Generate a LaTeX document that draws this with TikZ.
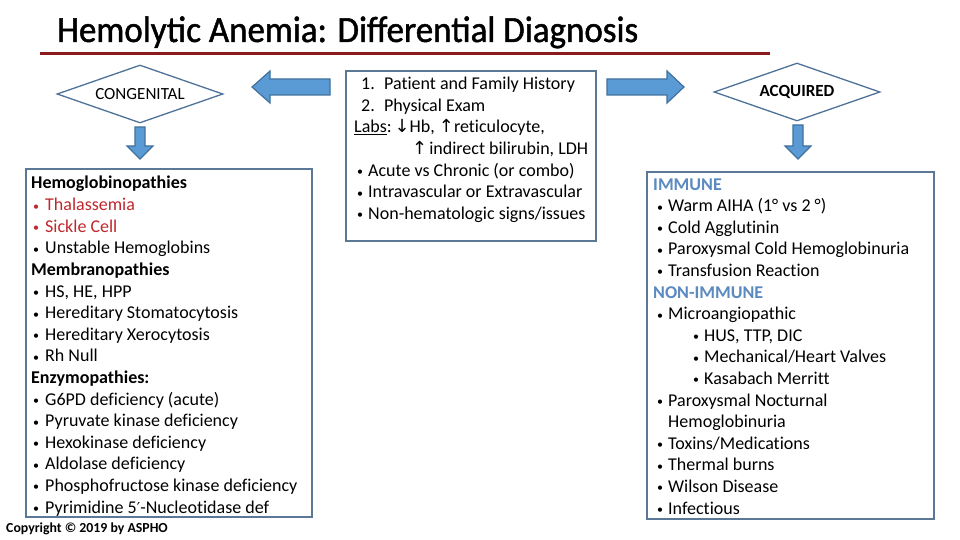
\documentclass[tikz,border=0pt]{standalone}
\usepackage{fontspec}
\setmainfont[Ligatures=NoCommon]{Carlito}
\newfontfamily\titlefont[FakeBold=1.3]{Carlito}
\newfontfamily\djv{DejaVu Sans}
\usetikzlibrary{shapes.geometric}
\definecolor{boxc}{HTML}{5B7897}
\definecolor{dmc}{HTML}{4E7298}
\definecolor{arf}{HTML}{5B9BD5}
\definecolor{ard}{HTML}{41719C}
\definecolor{titlered}{HTML}{8B1A1A}
\definecolor{redtxt}{HTML}{C0282D}
\definecolor{immc}{HTML}{5A8AC0}
\newcommand\bul[1]{\makebox[#1pt][l]{\hspace{1pt}\raisebox{0.5pt}{\fontsize{12}{12}\selectfont •}}}
\newcommand\arw[1]{{\djv\fontsize{18}{18}\selectfont #1}}
\begin{document}
\begin{tikzpicture}[x=1pt,y=-1pt,
 txt/.style={anchor=base west,inner sep=0pt,font=\fontsize{18}{21}\selectfont},
 hdr/.style={txt,font=\fontsize{18}{21}\selectfont\bfseries},
 boxst/.style={draw=boxc,line width=1.6pt,fill=white,anchor=north west,inner sep=0pt},
 dmd/.style={draw=dmc,line width=1.3pt,fill=white,diamond,aspect=2.86,minimum width=166pt,minimum height=58pt,inner sep=0pt,font=\fontsize{17}{20}\selectfont},
 blk/.style={fill=arf,draw=ard,line width=1.2pt,line join=miter}]
\fill[white] (0,0) rectangle (960,540);
\useasboundingbox (0,0) rectangle (960,540);

% title
\node[anchor=base west,inner sep=0pt,font=\fontsize{37}{40}\titlefont] (title) at (57,42) {\scalebox{0.945}[1]{Hemolytic Anemia: Differential Diagnosis}};
\coordinate (rl) at (40,53.5);
\coordinate (rr) at (770,53.5);
\draw[titlered,line width=2.8pt] (rl) -- (rr);

% diamonds
\node[dmd] (cong) at (140,94) {CONGENITAL};
\node[dmd,font=\fontsize{17}{20}\selectfont\bfseries] (acq) at (797,92) {ACQUIRED};

% boxes
\node[boxst,minimum width=250pt,minimum height=170pt] (cbox) at (345,70) {};
\node[boxst,minimum width=286pt,minimum height=348pt] (lbox) at (25,168) {};
\node[boxst,minimum width=287pt,minimum height=347pt] (rbox) at (646,171) {};

% block arrows
\draw[blk] (330,79) -- (270,79) -- (270,71) -- (252,87) -- (270,103) -- (270,95) -- (330,95) -- cycle;
\draw[blk] (607,79) -- (667,79) -- (667,71) -- (684,87) -- (667,103) -- (667,95) -- (607,95) -- cycle;
\draw[blk] (135,127) -- (145,127) -- (145,146) -- (153,146) -- (140,159) -- (127,146) -- (135,146) -- cycle;
\draw[blk] (793,125) -- (803,125) -- (803,146) -- (811,146) -- (798,159) -- (785,146) -- (793,146) -- cycle;

% centre text
\node[txt] (c1) at (361,90) {\makebox[23pt][l]{1.}Patient and Family History};
\node[txt] (c2) at (361,111.5) {\makebox[23pt][l]{2.}Physical Exam};
\node[txt] (c3) at (354,133) {\underline{Labs}:\hspace{3pt}\arw{↓}Hb, \arw{↑}reticulocyte,};
\node[txt] (c4) at (412,154.5) {\arw{↑}\hspace{2pt}indirect bilirubin, LDH};
\node[txt] (c5) at (356,176) {\bul{12}Acute vs Chronic (or combo)};
\node[txt] (c6) at (356,197.5) {\bul{12}Intravascular or Extravascular};
\node[txt] (c7) at (356,219) {\bul{12}Non-hematologic signs/issues};

% left list
\node[hdr] (l0) at (31,189) {Hemoglobinopathies};
\node[txt,text=redtxt] (l1) at (32,210.6) {\bul{13}Thalassemia};
\node[txt,text=redtxt] (l2) at (32,232.2) {\bul{13}Sickle Cell};
\node[txt] (l3) at (32,253.8) {\bul{13}Unstable Hemoglobins};
\node[hdr] (l4) at (31,275.4) {Membranopathies};
\node[txt] (l5) at (32,297) {\bul{13}HS, HE, HPP};
\node[txt] (l6) at (32,318.6) {\bul{13}Hereditary Stomatocytosis};
\node[txt] (l7) at (32,340.2) {\bul{13}Hereditary Xerocytosis};
\node[txt] (l8) at (32,361.8) {\bul{13}Rh Null};
\node[hdr] (l9) at (31,383.4) {Enzymopathies:};
\node[txt] (l10) at (32,405) {\bul{13}G6PD deficiency (acute)};
\node[txt] (l11) at (32,426.6) {\bul{13}Pyruvate kinase deficiency};
\node[txt] (l12) at (32,448.2) {\bul{13}Hexokinase deficiency};
\node[txt] (l13) at (32,469.8) {\bul{13}Aldolase deficiency};
\node[txt] (l14) at (32,491.4) {\bul{13}Phosphofructose kinase deficiency};
\node[txt] (l15) at (32,513) {\bul{13}Pyrimidine 5{\djv\fontsize{15}{15}\selectfont ′}-Nucleotidase def};

% right list
\node[hdr,text=immc] (r0) at (653,190) {IMMUNE};
\node[txt] (r1) at (656,211.6) {\bul{12}Warm AIHA (1° vs 2 °)};
\node[txt] (r2) at (656,233.2) {\bul{12}Cold Agglutinin};
\node[txt] (r3) at (656,254.8) {\bul{12}Paroxysmal Cold Hemoglobinuria};
\node[txt] (r4) at (656,276.4) {\bul{12}Transfusion Reaction};
\node[hdr,text=immc] (r5) at (653,298) {NON-IMMUNE};
\node[txt] (r6) at (656,319.6) {\bul{12}Microangiopathic};
\node[txt] (r7) at (692,341.2) {\bul{12}HUS, TTP, DIC};
\node[txt] (r8) at (692,362.8) {\bul{12}Mechanical/Heart Valves};
\node[txt] (r9) at (692,384.4) {\bul{12}Kasabach Merritt};
\node[txt] (r10) at (656,406) {\bul{12}Paroxysmal Nocturnal};
\node[txt] (r11) at (668,427.6) {Hemoglobinuria};
\node[txt] (r12) at (656,449.2) {\bul{12}Toxins/Medications};
\node[txt] (r13) at (656,470.8) {\bul{12}Thermal burns};
\node[txt] (r14) at (656,492.4) {\bul{12}Wilson Disease};
\node[txt] (r15) at (656,514) {\bul{12}Infectious};

% copyright
\node[anchor=base west,inner sep=0pt,font=\fontsize{13.8}{15}\selectfont\bfseries] (copy) at (6,532) {Copyright © 2019 by ASPHO};
\end{tikzpicture}
\end{document}
